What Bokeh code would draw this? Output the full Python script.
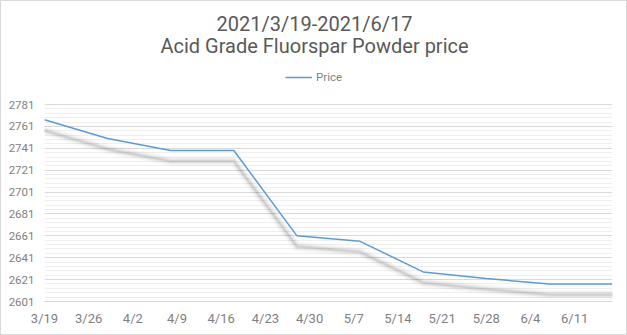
from datetime import date
from bokeh.plotting import figure
from bokeh.models import Range1d, FixedTicker, Label, Legend, LegendItem
from bokeh.embed import file_html
from bokeh.resources import INLINE

# ---- data ----
point_dates = ["2021-03-19", "2021-03-29", "2021-04-08", "2021-04-18", "2021-04-28",
               "2021-05-08", "2021-05-18", "2021-05-28", "2021-06-07", "2021-06-17"]
prices = [2767, 2750, 2739, 2739, 2661, 2656, 2628, 2622, 2617, 2617]
x_tick_dates = ["2021-03-19", "2021-03-26", "2021-04-02", "2021-04-09", "2021-04-16",
                "2021-04-23", "2021-04-30", "2021-05-07", "2021-05-14", "2021-05-21",
                "2021-05-28", "2021-06-04", "2021-06-11"]
x_tick_labels = ["3/19", "3/26", "4/2", "4/9", "4/16", "4/23", "4/30", "5/7", "5/14",
                 "5/21", "5/28", "6/4", "6/11"]
y_ticks = [2601, 2621, 2641, 2661, 2681, 2701, 2721, 2741, 2761, 2781]
y_minor = [2601 + 4 * i for i in range(46)]
start_date, end_date = "2021-03-19", "2021-06-17"
title_lines = ["2021/3/19-2021/6/17", "Acid Grade Fluorspar Powder price"]
series_name = "Price"

d0 = date.fromisoformat(start_date)
def day(s):
    return (date.fromisoformat(s) - d0).days

xs = [day(s) for s in point_dates]
xt = [day(s) for s in x_tick_dates]

FONT = "Roboto"
TITLE_GRAY = "#595959"
GRAY = "#7f7f7f"

# layout (pixels): the frame spans the whole height above the x axis so that
# title and legend labels can live inside it; data area is the lower 197 px.
W, H = 627, 335
border_left, border_right, border_bottom = 43, 16, 35
frame_h = H - border_bottom
data_h = 197
y_lo, y_hi = y_ticks[0], y_ticks[-1]
y_top = y_lo + (y_hi - y_lo) * frame_h / data_h

p = figure(width=W, height=H, output_backend="svg", toolbar_location=None,
           x_range=Range1d(day(start_date), day(end_date)),
           y_range=Range1d(y_lo, y_top),
           min_border_left=border_left, min_border_right=border_right,
           min_border_bottom=border_bottom, min_border_top=0)
p.outline_line_color = None
p.background_fill_color = "white"
p.border_fill_color = "white"

# shadow: same data drawn on a shifted range (about 10 px lower)
shift = 9.8
p.extra_y_ranges = {"shadow": Range1d(y_lo + shift, y_top + shift)}
for w, a in [(11, 0.01), (9, 0.015), (7, 0.025), (5, 0.04), (3, 0.055), (1.5, 0.05)]:
    p.line(xs, prices, y_range_name="shadow", line_color="black", line_alpha=a,
           line_width=w, line_join="round", line_cap="round")

r = p.line(xs, prices, line_color="#5b9bd5", line_width=1.5)

# axes
p.xaxis.ticker = FixedTicker(ticks=xt)
p.xaxis.major_label_overrides = {t: l for t, l in zip(xt, x_tick_labels)}
p.xaxis.axis_line_color = "#d9d9d9"
p.xaxis.major_tick_line_color = None
p.xaxis.minor_tick_line_color = None
p.xaxis.major_label_text_font = FONT
p.xaxis.major_label_text_font_size = "13px"
p.xaxis.major_label_text_color = GRAY
p.xaxis.major_label_standoff = 3

p.yaxis.ticker = FixedTicker(ticks=y_ticks, minor_ticks=y_minor)
p.yaxis.axis_line_color = None
p.yaxis.major_tick_line_color = None
p.yaxis.minor_tick_line_color = None
p.yaxis.major_label_text_font = FONT
p.yaxis.major_label_text_font_size = "11.5px"
p.yaxis.major_label_text_color = GRAY
p.yaxis.major_label_standoff = 4

p.xgrid.visible = False
p.ygrid.grid_line_color = "#d9d9d9"
p.ygrid.minor_grid_line_color = "#efefef"

legend = Legend(items=[LegendItem(label=series_name, renderers=[r])],
                orientation="horizontal", location=(241, 214),
                label_text_font=FONT, label_text_font_size="11.5px", label_text_color=GRAY,
                glyph_width=27, label_standoff=4, border_line_color=None,
                background_fill_alpha=0, margin=0, padding=0)
p.add_layout(legend, "center")

for i, txt in enumerate(title_lines):
    p.add_layout(Label(x=270, y=278 - 22 * i, x_units="screen", y_units="screen", text=txt,
                       text_align="center", text_baseline="middle", text_font=FONT,
                       text_font_size="20px", text_color=TITLE_GRAY))

p.styles = {"border": "1px solid #d9d9d9", "box-sizing": "border-box"}

open("out.html", "w").write(file_html(p, INLINE))
